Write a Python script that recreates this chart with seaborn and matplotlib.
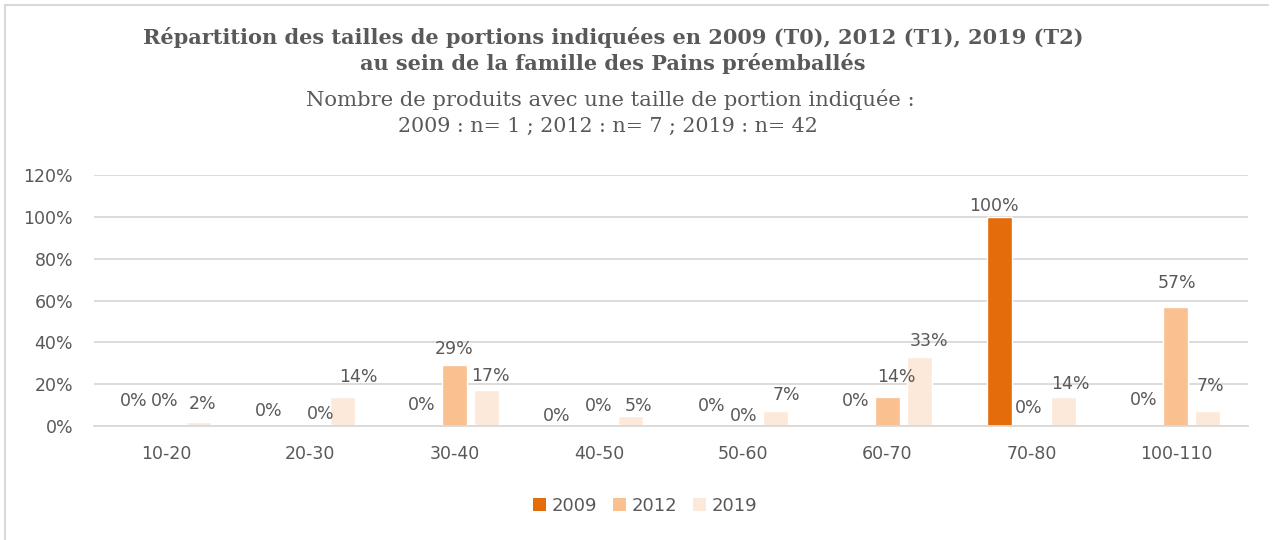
import matplotlib
matplotlib.use("Agg")
import matplotlib.pyplot as plt
import seaborn as sns
import pandas as pd
from matplotlib.patches import Patch
from matplotlib.lines import Line2D

# Portion-size classes and share of products per year (%)
categories = ["10-20", "20-30", "30-40", "40-50", "50-60", "60-70", "70-80", "100-110"]
years = ["2009", "2012", "2019"]
pct_2009 = [0, 0, 0, 0, 0, 0, 100, 0]
pct_2012 = [0, 0, 29, 0, 0, 14, 0, 57]
pct_2019 = [2, 14, 17, 5, 7, 33, 14, 7]
y_ticks = [0, 20, 40, 60, 80, 100, 120]

title_bold = ["Répartition des tailles de portions indiquées en 2009 (T0), 2012 (T1), 2019 (T2)",
              "au sein de la famille des Pains préemballés"]
title_regular = ["Nombre de produits avec une taille de portion indiquée :",
                 "2009 : n= 1 ; 2012 : n= 7 ; 2019 : n= 42"]

palette = {"2009": "#E46C0A", "2012": "#FAC090", "2019": "#FDE9D9"}
TEXT = "#595959"
GRID = "#D9D9D9"

# label nudges (dx, dy) in pixels from the top-centre of each bar
label_nudge = {
    "2009": [(0, 25), (-10, 15), (-1, 21), (-10, 10), (1, 20), (0, 25), (-6, 11), (0, 26)],
    "2012": [(-1, 25), (10, 12), (0, 16), (0, 20), (1, 10), (9, 20), (-3, 18), (1, 24)],
    "2019": [(4, 18), (16, 20), (4, 14), (8, 10), (11, 16), (10, 16), (7, 13), (2, 25)],
}

df = pd.DataFrame({
    "Tranche": categories * 3,
    "Année": [y for y in years for _ in categories],
    "Part": pct_2009 + pct_2012 + pct_2019,
})

sns.set_theme(style="white")
plt.rcParams["font.family"] = ["DejaVu Sans"]

W, H = 1273, 540
fig = plt.figure(figsize=(W / 100, H / 100), dpi=100)
ax = fig.add_axes([94 / W, 1 - 426 / H, (1248 - 94) / W, (426 - 175) / H])

sns.barplot(data=df, x="Tranche", y="Part", hue="Année", order=categories,
            hue_order=years, palette=palette, saturation=1, errorbar=None,
            width=0.667, gap=0.22, legend=False, ax=ax)

ax.set_ylim(0, 120)
ax.set_xlim(-0.5, len(categories) - 0.5)
ax.set_yticks(y_ticks)
ax.set_yticklabels([f"{v}%" for v in y_ticks])
ax.grid(axis="y", color=GRID, linewidth=1.3)
ax.set_axisbelow(True)
for s in ["top", "right", "left"]:
    ax.spines[s].set_visible(False)
ax.spines["bottom"].set_color(GRID)
ax.spines["bottom"].set_linewidth(1.3)
ax.set_xlabel("")
ax.set_ylabel("")
ax.tick_params(axis="y", length=0, pad=15, labelsize=12.5, labelcolor=TEXT)
ax.tick_params(axis="x", length=0, pad=14, labelsize=12.5, labelcolor=TEXT)

# value labels
for year, container in zip(years, ax.containers):
    for bar, (dx, dy) in zip(container, label_nudge[year]):
        h = bar.get_height()
        xc = bar.get_x() + bar.get_width() / 2
        ax.annotate(f"{h:.0f}%", xy=(xc, h), xytext=(dx * 0.72, dy * 0.72),
                    textcoords="offset points", ha="center", va="center",
                    fontsize=12.5, color=TEXT, annotation_clip=False)

# titles
cx = 613 / W
serif = "DejaVu Serif"
fig.text(cx, 1 - 37 / H, title_bold[0], ha="center", va="center",
         family=serif, weight="bold", fontsize=15, color=TEXT)
fig.text(cx, 1 - 64 / H, title_bold[1], ha="center", va="center",
         family=serif, weight="bold", fontsize=15, color=TEXT)
fig.text(610 / W, 1 - 99 / H, title_regular[0], ha="center", va="center",
         family=serif, fontsize=15.2, color=TEXT)
fig.text(608 / W, 1 - 126 / H, title_regular[1], ha="center", va="center",
         family=serif, fontsize=14.9, color=TEXT)

# legend
handles = [Patch(facecolor=palette[y], edgecolor="none") for y in years]
fig.legend(handles, years, loc="center", bbox_to_anchor=(645 / W, 1 - 506 / H),
           ncol=3, frameon=False, fontsize=13, labelcolor=TEXT,
           handlelength=0.75, handleheight=0.75, handletextpad=0.3, columnspacing=0.85)

# chart frame (left and top edges)
fig.add_artist(Line2D([5 / W, 5 / W], [0, 1 - 5 / H], transform=fig.transFigure,
                      color=GRID, linewidth=1.5))
fig.add_artist(Line2D([5 / W, 1268 / W], [1 - 5 / H, 1 - 5 / H], transform=fig.transFigure,
                      color=GRID, linewidth=1.5))

fig.savefig("out.png", dpi=100, facecolor="white")
